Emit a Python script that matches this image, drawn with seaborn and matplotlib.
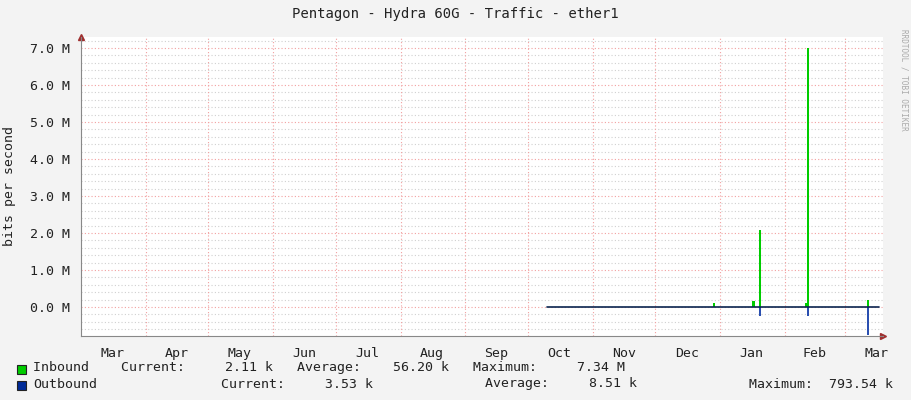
import matplotlib
matplotlib.use("Agg")
import matplotlib.pyplot as plt
import seaborn as sns
import numpy as np
import pandas as pd

sns.set_style("white")
plt.rcParams['font.family'] = ['DejaVu Sans Mono']

title = "Pentagon - Hydra 60G - Traffic - ether1"
month_labels = ["Mar", "Apr", "May", "Jun", "Jul", "Aug", "Sep", "Oct", "Nov", "Dec", "Jan", "Feb", "Mar"]
label_dates = ["2023-03-16", "2023-04-16", "2023-05-16", "2023-06-16", "2023-07-16", "2023-08-16",
               "2023-09-16", "2023-10-16", "2023-11-16", "2023-12-16", "2024-01-16", "2024-02-15",
               "2024-03-16"]
month_starts = ["2023-04-01", "2023-05-01", "2023-06-01", "2023-07-01", "2023-08-01",
                "2023-09-01", "2023-10-01", "2023-11-01", "2023-12-01", "2024-01-01", "2024-02-01",
                "2024-03-01"]
data_start = "2023-10-10"
data_end = "2024-03-17"
gap_dates = ["2024-02-19"]
# spike events (date, bits/s)
in_dates = ["2023-12-29", "2024-01-17", "2024-01-20", "2024-02-11", "2024-02-12", "2024-03-12"]
in_vals = [0.10e6, 0.15e6, 2.08e6, 0.1e6, 7.0e6, 0.2e6]
out_dates = ["2024-01-20", "2024-02-12", "2024-03-12"]
out_vals = [0.25e6, 0.25e6, 0.75e6]
baseline_in = 2.11e3
baseline_out = 3.53e3

days = pd.date_range(data_start, data_end, freq="D")
inbound = pd.Series(baseline_in, index=days)
outbound = pd.Series(baseline_out, index=days)
for d, v in zip(in_dates, in_vals):
    inbound[pd.Timestamp(d)] = v
for d, v in zip(out_dates, out_vals):
    outbound[pd.Timestamp(d)] = v
for d in gap_dates:
    inbound[pd.Timestamp(d)] = np.nan
    outbound[pd.Timestamp(d)] = np.nan
df = pd.DataFrame({"date": days, "in": inbound.values, "out": -outbound.values})

fig = plt.figure(figsize=(9.11, 4.0), dpi=100, facecolor="#f3f3f3")
ax = fig.add_axes([81/911, 64/400, 802/911, 299/400])
ax.set_facecolor("white")

ax.fill_between(df["date"], 0, df["in"], color="#00cc00", linewidth=0, step="mid")
ax.fill_between(df["date"], 0, df["out"], color="#2a4fb0", linewidth=0, step="mid")
sns.lineplot(data=df.assign(z=np.where(df["in"].isna(), np.nan, 0.0)), x="date", y="z",
             ax=ax, color="#0b2550", linewidth=1.2)

ax.set_xlim(pd.Timestamp("2023-03-01"), pd.Timestamp("2024-03-19"))
ax.set_ylim(-0.784e6, 7.3e6)

# grid
for y in np.arange(-0.6e6, 7.3e6, 0.2e6):
    major = abs(y / 1e6 - round(y / 1e6)) < 1e-6
    ax.axhline(y, color="#f2a0a0" if major else "#d0d0d0", linestyle=(0, (1, 2)), linewidth=0.8, zorder=0)
for m in month_starts:
    ax.axvline(pd.Timestamp(m), color="#f2a0a0", linestyle=(0, (1, 2)), linewidth=0.8, zorder=0)

yt = np.arange(0, 7.1e6, 1e6)
ax.set_yticks(yt)
ax.set_yticklabels([f"{v/1e6:.1f} M" for v in yt], fontsize=9.5, color="#222222")
ax.set_xticks([pd.Timestamp(d) for d in label_dates])
ax.set_xticklabels(month_labels, fontsize=9.5, color="#222222")
ax.tick_params(length=0, pad=8)
ax.set_xlabel("")
ax.set_ylabel("bits per second", fontsize=9.5, color="#222222", labelpad=10)
for s in ["top", "right"]:
    ax.spines[s].set_visible(False)
for s in ["left", "bottom"]:
    ax.spines[s].set_color("#888888")
ax.plot([1.0], [0], marker=">", color="#a03030", markersize=5, transform=ax.transAxes, clip_on=False)
ax.plot([0], [1.0], marker="^", color="#a03030", markersize=5, transform=ax.transAxes, clip_on=False)

fig.text(0.5, 1 - 14/400, title, ha="center", va="center", fontsize=10, color="#222222")
fig.text(0.992, 0.8, "RRDTOOL / TOBI OETIKER", rotation=270, ha="center", va="center",
         fontsize=5.5, color="#aaaaaa")

# legend
fig.patches.append(plt.Rectangle((17/911, 1 - 374/400), 9/911, 9/400, transform=fig.transFigure,
                                 facecolor="#00cc00", edgecolor="#222222", linewidth=0.8))
fig.patches.append(plt.Rectangle((17/911, 1 - 390/400), 9/911, 9/400, transform=fig.transFigure,
                                 facecolor="#002a97", edgecolor="#222222", linewidth=0.8))
lf = dict(fontsize=9.5, color="#222222", va="center")
fig.text(33/911, 1 - 368/400, "Inbound    Current:     2.11 k   Average:    56.20 k   Maximum:     7.34 M", **lf)
fig.text(33/911, 1 - 384/400, "Outbound", **lf)
fig.text(221/911, 1 - 384/400, "Current:     3.53 k", **lf)
fig.text(485/911, 1 - 384/400, "Average:     8.51 k", **lf)
fig.text(749/911, 1 - 384/400, "Maximum:  793.54 k", **lf)

fig.savefig("out.png", dpi=100, facecolor=fig.get_facecolor())
